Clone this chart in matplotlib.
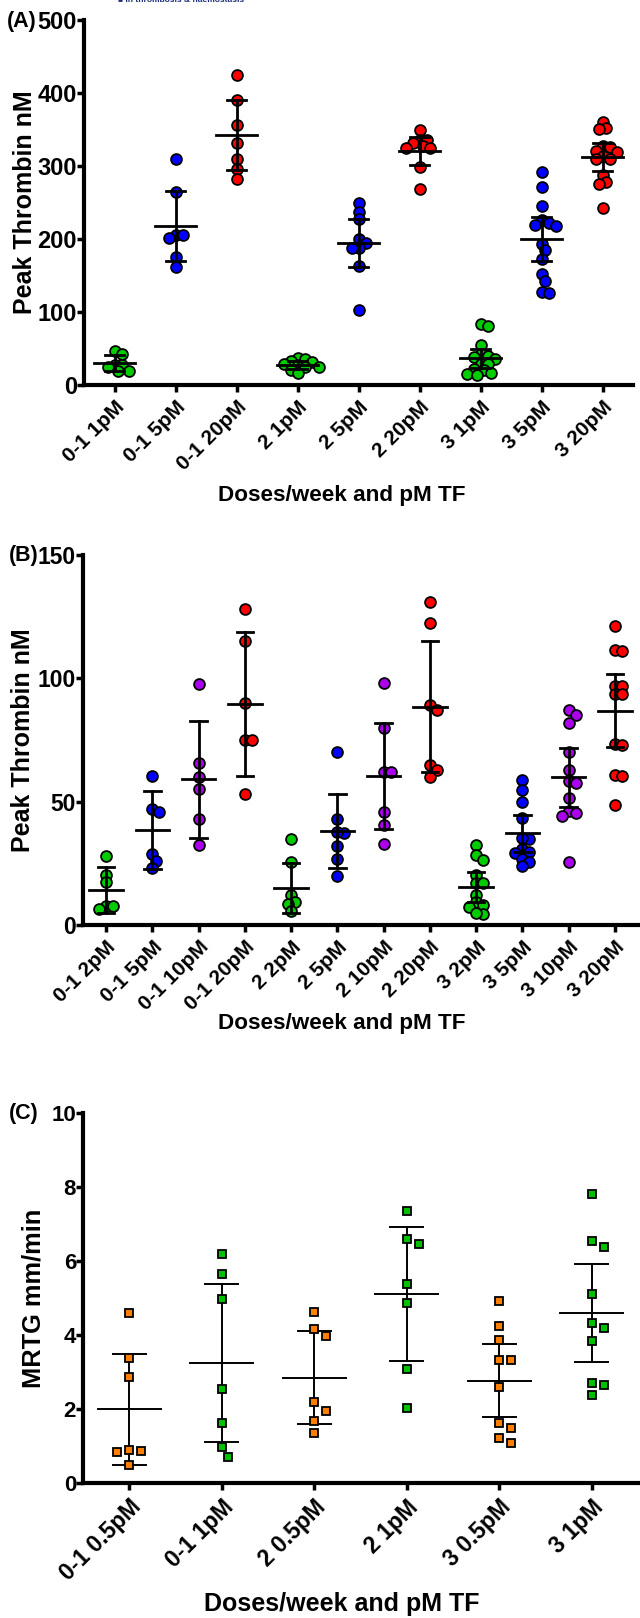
import matplotlib.pyplot as plt
import numpy as np

plt.rcParams['font.family'] = ['Liberation Sans', 'DejaVu Sans']
plt.rcParams['font.weight'] = 'bold'
plt.rcParams['axes.labelweight'] = 'bold'

GREEN = '#00cc00'
BLUE = '#0000ff'
RED = '#ff0000'
PURPLE = '#aa00ee'
ORANGE = '#ff8000'
SQ_GREEN = '#00c000'

# ---- panel A : peak thrombin, 3 TF doses ----
a_labels = ['0-1 1pM', '0-1 5pM', '0-1 20pM', '2 1pM', '2 5pM', '2 20pM',
            '3 1pM', '3 5pM', '3 20pM']
a_colors = [GREEN, BLUE, RED] * 3
a_vals = [
    [47, 43, 27.5, 27, 25, 19, 19.5],
    [309, 264, 205, 202, 205, 175, 162],
    [424, 390, 356, 332, 310, 296, 282],
    [37, 35, 33, 31, 29, 27, 25, 24, 21, 17],
    [250, 237, 227, 200, 194, 188, 188, 163, 103],
    [350, 336, 335, 331, 327, 324, 324, 298, 268],
    [83, 81, 55, 43, 40, 38, 35, 29, 29, 22, 21, 17, 15, 14],
    [292, 271, 245, 226, 222, 219, 218, 193, 185, 173, 152, 143, 127, 126],
    [360, 352, 351, 327, 326, 321, 319, 314, 310, 309, 287, 278, 276, 242],
]
a_mean = [30, 218, 342, 27.5, 194.5, 321, 36.5, 200, 312.5]
a_sd = [10.5, 47.5, 48, 6, 33, 19, 13, 30, 19]

# ---- panel B : peak thrombin, 4 TF doses ----
b_labels = ['0-1 2pM', '0-1 5pM', '0-1 10pM', '0-1 20pM', '2 2pM', '2 5pM',
            '2 10pM', '2 20pM', '3 2pM', '3 5pM', '3 10pM', '3 20pM']
b_colors = [GREEN, BLUE, PURPLE, RED] * 3
b_vals = [
    [28, 20.3, 17.3, 7.7, 7.7, 6.3],
    [60.5, 47, 46, 28.6, 26, 23],
    [97.6, 65.5, 60, 55, 43, 32.4],
    [128, 115, 90, 75.2, 75, 53],
    [35, 25.5, 12, 9.5, 8.5, 5.5],
    [70, 43, 37.4, 37.8, 32, 26.7, 20],
    [98.3, 80, 62, 62, 45.7, 40.5, 32.7],
    [130.8, 122.6, 89, 87, 64.8, 63, 60],
    [32.4, 28.4, 26.3, 20.3, 16.9, 16.9, 12.2, 9.4, 7.4, 8.1, 4.4, 5],
    [58.8, 54.7, 49.7, 43.2, 34.8, 35.3, 30.7, 29.7, 29.1, 26.7, 25.6, 23.9],
    [87, 85, 81.7, 70, 62.8, 58.5, 57.7, 51.3, 46.3, 45.5, 44.2, 25.6],
    [121.2, 111.4, 111.2, 96.8, 96.8, 93.6, 93.6, 73.3, 72.9, 60.8, 60.4, 48.7],
]
b_mean = [14.2, 38.5, 59, 89.5, 15.1, 38.2, 60.4, 88.5, 15.5, 37.1, 59.8, 86.8]
b_sd = [9.4, 15.7, 23.6, 29.2, 10.2, 15, 21.5, 26.5, 6.1, 7.5, 11.8, 14.8]

# ---- panel C : MRTG ----
c_labels = ['0-1 0.5pM', '0-1 1pM', '2 0.5pM', '2 1pM', '3 0.5pM', '3 1pM']
c_colors = [ORANGE, SQ_GREEN] * 3
c_vals = [
    [4.59, 3.37, 2.87, 0.87, 0.89, 0.85, 0.5],
    [6.19, 5.65, 4.96, 2.53, 1.63, 0.98, 0.69],
    [4.61, 4.15, 3.97, 2.2, 1.95, 1.68, 1.34],
    [7.36, 6.59, 6.47, 5.38, 4.87, 3.07, 2.02],
    [4.92, 4.25, 3.86, 3.32, 3.32, 2.6, 1.63, 1.48, 1.22, 1.07],
    [7.82, 6.54, 6.39, 5.1, 4.33, 4.18, 3.85, 2.69, 2.66, 2.38],
]
c_mean = [1.99, 3.24, 2.85, 5.11, 2.77, 4.59]
c_sd = [1.49, 2.13, 1.25, 1.8, 0.99, 1.33]

fig = plt.figure(figsize=(6.4, 16.18), dpi=100)
W, H = 640, 1618


def swarm_x(ax, center, vals, diam):
    # simple beeswarm done in pixel space so that markers do not pile up
    pos = ax.get_position()
    x0, x1 = ax.get_xlim()
    y0, y1 = ax.get_ylim()
    sx = pos.width * W / (x1 - x0)
    sy = pos.height * H / (y1 - y0)
    ys = np.asarray(vals, dtype=float) * sy
    steps = [0]
    for k in range(1, 20):
        steps += [k * 0.5, -k * 0.5]
    placed = []
    offs = np.zeros(len(vals))
    for i in np.argsort(-ys):
        for s in steps:
            x = s * diam
            if all((x - px) ** 2 + (ys[i] - py) ** 2 >= 0.9 * diam ** 2 for px, py in placed):
                break
        placed.append((x, ys[i]))
        offs[i] = x / sx
    return center + offs


def panel(rect, vals, means, sds, colors, labels, ylim, yticks, ylabel,
          marker, ms, diam, mean_hw, cap_hw, lw, tick_fs, xt_fs, ylab_fs,
          ylab_x, xlab_fs, xlab_y, points_on_top):
    ax = fig.add_axes(rect)
    n = len(vals)
    ax.set_xlim(-0.5, n - 0.5)
    ax.set_ylim(*ylim)
    zl, zp = (2, 3) if points_on_top else (3, 2)
    for i in range(n):
        xs = swarm_x(ax, i, vals[i], diam)
        ax.plot(xs, vals[i], ls='none', marker=marker, ms=ms, mfc=colors[i],
                mec='black', mew=1.3, zorder=zp, clip_on=False)
        m, s = means[i], sds[i]
        ax.plot([i, i], [m - s, m + s], color='black', lw=lw, zorder=zl)
        ax.plot([i - mean_hw, i + mean_hw], [m, m], color='black', lw=lw, zorder=zl)
        for yy in (m - s, m + s):
            ax.plot([i - cap_hw, i + cap_hw], [yy, yy], color='black', lw=lw, zorder=zl)
    for sp in ['top', 'right']:
        ax.spines[sp].set_visible(False)
    for sp in ['left', 'bottom']:
        ax.spines[sp].set_linewidth(3)
    ax.set_yticks(yticks)
    ax.set_xticks(range(n))
    ax.set_xticklabels(labels, rotation=45, ha='right', rotation_mode='anchor',
                       fontsize=xt_fs, fontweight='bold')
    ax.tick_params(axis='both', width=2.5, length=5, direction='out')
    ax.tick_params(axis='y', labelsize=tick_fs, pad=0)
    ax.tick_params(axis='x', pad=4)
    for t in ax.get_yticklabels():
        t.set_fontweight('bold')
    ax.set_ylabel(ylabel, fontsize=ylab_fs, fontweight='bold')
    ax.yaxis.set_label_coords((ylab_x - rect[0] * W) / (rect[2] * W), 0.5)
    fig.text(342 / W, 1 - xlab_y / H, 'Doses/week and pM TF', fontsize=xlab_fs,
             fontweight='bold', ha='center', va='center')
    return ax


axA = panel([84 / W, 1 - 385 / H, (633 - 84) / W, 365 / H], a_vals, a_mean, a_sd,
            a_colors, a_labels, (0, 500), range(0, 501, 100), 'Peak Thrombin nM',
            'o', 7.8, 7, 0.33, 0.15, 2.0, 17, 15, 18, 37, 16.2, 496, False)
axB = panel([83 / W, 1 - 925 / H, (638 - 83) / W, 370 / H], b_vals, b_mean, b_sd,
            b_colors, b_labels, (0, 150), [0, 50, 100, 150], 'Peak Thrombin nM',
            'o', 7.8, 7, 0.36, 0.18, 2.0, 16.5, 15, 18, 35, 16.2, 1024, False)
axC = panel([83 / W, 1 - 1483 / H, (638 - 83) / W, 370 / H], c_vals, c_mean, c_sd,
            c_colors, c_labels, (0, 10), range(0, 11, 2), 'MRTG mm/min',
            's', 6.3, 12, 0.34, 0.18, 1.4, 16, 16.5, 18.3, 46, 18, 1604, True)

fig.text(7 / W, 1 - 22 / H, '(A)', fontsize=15.5, fontweight='bold', va='center')
fig.text(9 / W, 1 - 556 / H, '(B)', fontsize=15.5, fontweight='bold', va='center')
fig.text(9 / W, 1 - 1114 / H, '(C)', fontsize=15.5, fontweight='bold', va='center')
fig.text(118 / W, 1 - 0.5 / H, '\u25a0 in thrombosis & haemostasis', fontsize=6,
         color='#1a2a7a', va='center', family=['Liberation Sans', 'DejaVu Sans'])

fig.savefig('out.png', dpi=100)
